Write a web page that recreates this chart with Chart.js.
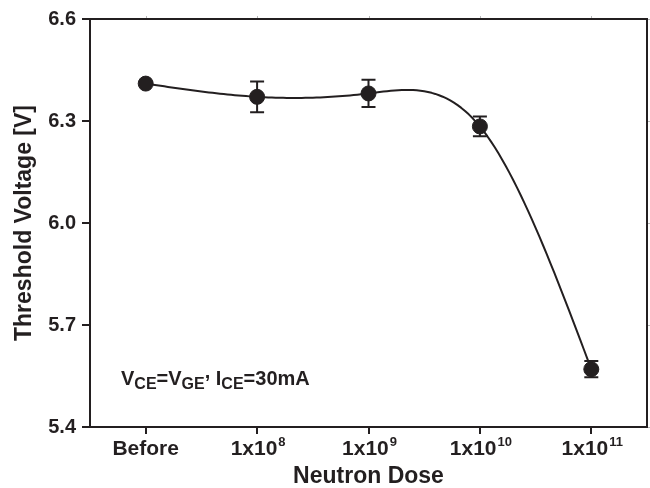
<!DOCTYPE html>
<html>
<head>
<meta charset="utf-8">
<script src="https://cdn.jsdelivr.net/npm/chart.js@4.4.0/dist/chart.umd.min.js"></script>
<style>
  html, body { margin: 0; padding: 0; background: #fff; }
  #wrap { width: 650px; height: 488px; }
</style>
</head>
<body>
<div id="wrap"><canvas id="chart"></canvas></div>
<script>
// data
const doseBase = ['Before', '1x10', '1x10', '1x10', '1x10'];
const doseExp = ['', '8', '9', '10', '11'];
const thresholdV = [6.41, 6.371, 6.381, 6.284, 5.57];
const errV = [0, 0.045, 0.04, 0.029, 0.024];
const yTicks = [5.4, 5.7, 6.0, 6.3, 6.6];

const ink = '#231f20';
const fontFam = '"Liberation Sans", Arial, Helvetica, sans-serif';

// natural cubic spline through the points, in pixel space
function drawSpline(ctx, px, py) {
  const n = px.length;
  const M = new Array(n).fill(0);
  const cp = [], dp = [];
  cp[0] = 0; dp[0] = 0;
  for (let i = 1; i < n - 1; i++) {
    const h0 = px[i] - px[i - 1], h1 = px[i + 1] - px[i];
    const rhs = 6 * ((py[i + 1] - py[i]) / h1 - (py[i] - py[i - 1]) / h0);
    const b = 2 * (h0 + h1) - h0 * cp[i - 1];
    cp[i] = h1 / b;
    dp[i] = (rhs - h0 * dp[i - 1]) / b;
  }
  for (let i = n - 2; i >= 1; i--) {
    M[i] = dp[i] - cp[i] * M[i + 1];
  }
  ctx.beginPath();
  ctx.moveTo(px[0], py[0]);
  for (let i = 0; i < n - 1; i++) {
    const h = px[i + 1] - px[i];
    for (let s = 1; s <= 30; s++) {
      const t = s / 30 * h;
      const A = (h - t) / h, B = t / h;
      const yy = A * py[i] + B * py[i + 1] +
        ((A * A * A - A) * M[i] + (B * B * B - B) * M[i + 1]) * h * h / 6;
      ctx.lineTo(px[i] + t, yy);
    }
  }
  ctx.stroke();
}

const decor = {
  id: 'decor',
  beforeDatasetsDraw(chart) {
    const {ctx, chartArea: a, scales: {x, y}} = chart;
    ctx.save();
    // faint mirror ticks on top / right
    ctx.strokeStyle = '#b8b8b8';
    ctx.lineWidth = 1;
    ctx.beginPath();
    doseBase.forEach((d, i) => {
      const p = Math.round(x.getPixelForValue(i)) + 0.5;
      ctx.moveTo(p, a.top); ctx.lineTo(p, a.top - 3);
    });
    yTicks.forEach(v => {
      const p = Math.round(y.getPixelForValue(v)) + 0.5;
      ctx.moveTo(a.right, p); ctx.lineTo(a.right + 3, p);
    });
    ctx.stroke();

    // frame
    ctx.strokeStyle = ink;
    ctx.lineWidth = 2;
    ctx.strokeRect(a.left, a.top, a.right - a.left, a.bottom - a.top);

    // smooth curve
    const px = thresholdV.map((v, i) => x.getPixelForValue(i));
    const py = thresholdV.map(v => y.getPixelForValue(v));
    ctx.lineWidth = 2;
    ctx.lineJoin = 'round';
    drawSpline(ctx, px, py);

    // error bars
    ctx.beginPath();
    thresholdV.forEach((v, i) => {
      if (!errV[i]) return;
      const cx = px[i];
      const top = y.getPixelForValue(v + errV[i]);
      const bot = y.getPixelForValue(v - errV[i]);
      ctx.moveTo(cx, top); ctx.lineTo(cx, bot);
      ctx.moveTo(cx - 7, top); ctx.lineTo(cx + 7, top);
      ctx.moveTo(cx - 7, bot); ctx.lineTo(cx + 7, bot);
    });
    ctx.stroke();
    ctx.restore();
  },
  afterDraw(chart) {
    const {ctx, chartArea: a, scales: {x}} = chart;
    ctx.save();
    ctx.fillStyle = ink;
    ctx.textBaseline = 'alphabetic';
    ctx.textAlign = 'left';
    // x tick labels with superscripts
    const base = 'bold 21px ' + fontFam;
    const sup = 'bold 13px ' + fontFam;
    doseBase.forEach((d, i) => {
      ctx.font = base;
      const w1 = ctx.measureText(d).width;
      ctx.font = sup;
      const w2 = doseExp[i] ? ctx.measureText(doseExp[i]).width + 1 : 0;
      const x0 = x.getPixelForValue(i) - (w1 + w2) / 2 + (w2 ? 1 : 0);
      ctx.font = base;
      ctx.fillText(d, x0, a.bottom + 28);
      if (doseExp[i]) {
        ctx.font = sup;
        ctx.fillText(doseExp[i], x0 + w1 + 1, a.bottom + 19);
      }
    });

    // condition note with subscripts
    const parts = [
      ['V', 0], ['CE', 1], ['=V', 0], ['GE', 1], [',', 2], [' I', 0], ['CE', 1], ['=30mA', 0]
    ];
    let cx = a.left + 31;
    const by = a.bottom - 42;
    parts.forEach(([t, kind]) => {
      ctx.font = kind === 1 ? 'bold 16px ' + fontFam : 'bold 20px ' + fontFam;
      const dy = kind === 1 ? 4 : (kind === 2 ? -7 : 0);
      ctx.fillText(t, cx, by + dy);
      cx += ctx.measureText(t).width;
    });
    ctx.restore();
  }
};

new Chart(document.getElementById('chart'), {
  type: 'scatter',
  data: {
    labels: doseBase.map((d, i) => d + doseExp[i]),
    datasets: [{
      data: thresholdV,
      showLine: false,
      pointRadius: 7.5,
      pointBorderWidth: 1,
      pointBackgroundColor: ink,
      pointBorderColor: ink
    }]
  },
  options: {
    responsive: true,
    maintainAspectRatio: false,
    animation: false,
    layout: { autoPadding: false, padding: { top: 19, right: 3, left: 0, bottom: 0 } },
    plugins: { legend: { display: false }, tooltip: { enabled: false } },
    scales: {
      x: {
        type: 'category',
        offset: true,
        afterFit: s => { s.height = 61; },
        grid: { offset: false, drawOnChartArea: false, color: ink, lineWidth: 2, tickLength: 7 },
        border: { display: false },
        ticks: { display: false },
        title: {
          display: true,
          text: 'Neutron Dose',
          color: ink,
          font: { family: fontFam, size: 23, weight: 'bold', lineHeight: 1 },
          padding: { top: 0, bottom: 0 }
        }
      },
      y: {
        min: 5.4,
        max: 6.6,
        afterFit: s => { s.width = 90; },
        afterBuildTicks: s => { s.ticks = yTicks.map(v => ({ value: v })); },
        grid: { drawOnChartArea: false, color: ink, lineWidth: 2, tickLength: 8 },
        border: { display: false },
        ticks: {
          color: ink,
          padding: 6,
          font: { family: fontFam, size: 20, weight: 'bold' },
          callback: v => Number(v).toFixed(1)
        },
        title: {
          display: true,
          text: 'Threshold Voltage [V]',
          color: ink,
          font: { family: fontFam, size: 23, weight: 'bold' },
          padding: { top: 11, bottom: 0 }
        }
      }
    }
  },
  plugins: [decor]
});
</script>
</body>
</html>
